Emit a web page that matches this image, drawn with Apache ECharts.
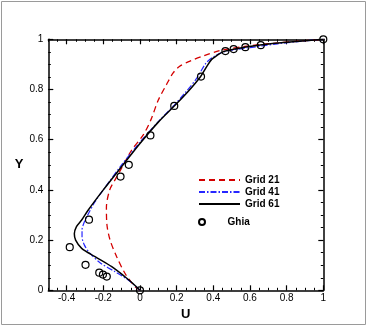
<!DOCTYPE html>
<html>
<head>
<meta charset="utf-8">
<script src="https://cdn.jsdelivr.net/npm/echarts@6/dist/echarts.min.js"></script>
<style>
  html, body { margin: 0; padding: 0; background: #fff; }
  #chart { width: 368px; height: 327px; }
</style>
</head>
<body>
<div id="chart"></div>
<script>
  // Ghia et al. reference points (U on vertical centerline)
  var ghiaY = [1.0, 0.9766, 0.9688, 0.9609, 0.9531, 0.8516, 0.7344, 0.6172, 0.5, 0.4531, 0.2813, 0.1719, 0.1016, 0.0703, 0.0625, 0.0547, 0.0];
  var ghiaU = [1.0, 0.659, 0.575, 0.511, 0.466, 0.333, 0.187, 0.057, -0.061, -0.106, -0.278, -0.383, -0.297, -0.222, -0.202, -0.181, 0.0];

  // Grid 21
  var g21U = [0, -0.027, -0.082, -0.127, -0.163, -0.18, -0.183, -0.165, -0.136, -0.09, -0.045, 0.018, 0.06, 0.1, 0.145, 0.18, 0.215, 0.273, 0.35, 0.436, 0.582, 0.727, 0.873, 1];
  var g21Y = [0, 0.014, 0.068, 0.134, 0.2, 0.26, 0.33, 0.4, 0.44, 0.5, 0.559, 0.619, 0.68, 0.758, 0.82, 0.865, 0.892, 0.913, 0.935, 0.955, 0.973, 0.984, 0.993, 1];

  // Grid 41
  var g41U = [0, -0.064, -0.136, -0.218, -0.272, -0.303, -0.316, -0.316, -0.303, -0.28, -0.245, -0.19, -0.1, 0.0, 0.1, 0.187, 0.25, 0.31, 0.36, 0.40, 0.45, 0.51, 0.6, 0.75, 0.85, 1];
  var g41Y = [0, 0.041, 0.074, 0.11, 0.147, 0.18, 0.214, 0.24, 0.273, 0.307, 0.353, 0.41, 0.5, 0.59, 0.672, 0.738, 0.79, 0.845, 0.905, 0.93, 0.948, 0.958, 0.967, 0.982, 0.99, 1];

  // Grid 61
  var g61U = [0, -0.04, -0.082, -0.154, -0.245, -0.318, -0.351, -0.358, -0.347, -0.318, -0.282, -0.2, -0.092, 0.0, 0.1, 0.187, 0.26, 0.33, 0.364, 0.391, 0.419, 0.455, 0.51, 0.57, 0.655, 0.8, 1];
  var g61Y = [0, 0.028, 0.054, 0.094, 0.134, 0.167, 0.2, 0.225, 0.253, 0.28, 0.32, 0.4, 0.5, 0.585, 0.67, 0.734, 0.79, 0.851, 0.891, 0.92, 0.935, 0.951, 0.96, 0.968, 0.977, 0.988, 1];

  // tick labels
  var xTicks = [-0.4, -0.2, 0, 0.2, 0.4, 0.6, 0.8, 1];
  var yTicks = [0, 0.2, 0.4, 0.6, 0.8, 1];

  function pairs(us, ys) {
    return us.map(function (u, i) { return [u, ys[i]]; });
  }

  var fontName = 'Liberation Sans, Arial, sans-serif';
  var axisColor = '#000';

  // one axis per side for long ticks, one for the short ones
  function sideAxis(pos, min, max, ticks, opts) {
    var major = {
      type: 'value', position: pos, min: min, max: max,
      axisLine: { show: true, onZero: false, lineStyle: { color: axisColor, width: 1.5 } },
      axisTick: { show: true, inside: true, length: 5, customValues: ticks, lineStyle: { color: axisColor, width: 1.2 } },
      axisLabel: { show: false },
      splitLine: { show: false }
    };
    Object.assign(major, opts || {});
    var minor = {
      type: 'value', position: pos, min: min, max: max, interval: 0.05,
      axisLine: { show: false, onZero: false },
      axisTick: { show: true, inside: true, length: 2.5, lineStyle: { color: axisColor, width: 1 } },
      axisLabel: { show: false },
      splitLine: { show: false }
    };
    return [major, minor];
  }

  var xBottom = sideAxis('bottom', -0.5, 1, xTicks, {
    name: 'U', nameLocation: 'middle', nameGap: 11,
    nameTextStyle: { fontFamily: fontName, fontWeight: 'bold', fontSize: 13, color: '#000' },
    axisLabel: { show: true, customValues: xTicks, margin: 3, color: '#000', fontFamily: fontName, fontSize: 10 }
  });
  var xTop = sideAxis('top', -0.5, 1, xTicks);
  var yLeft = sideAxis('left', 0, 1, yTicks, {
    name: 'Y', nameLocation: 'middle', nameGap: 23, nameRotate: 0,
    nameTextStyle: { fontFamily: fontName, fontWeight: 'bold', fontSize: 13, color: '#000' },
    axisLabel: { show: true, customValues: yTicks, margin: 5, color: '#000', fontFamily: fontName, fontSize: 10 }
  });
  var yRight = sideAxis('right', 0, 1, yTicks);

  var chart = echarts.init(document.getElementById('chart'), null, { renderer: 'canvas' });

  var legendText = { fontFamily: fontName, fontWeight: 'bold', fontSize: 10, color: '#000' };

  var option = {
    animation: false,
    backgroundColor: '#fff',
    grid: { left: 48.3, right: 44.7, top: 39.3, bottom: 36.7 },
    xAxis: xBottom.concat(xTop),
    yAxis: yLeft.concat(yRight),
    legend: [
      {
        data: ['Grid 21', 'Grid 41', 'Grid 61'],
        orient: 'vertical', left: 198, top: 175, padding: 0,
        itemWidth: 41, itemHeight: 10, itemGap: 2,
        itemStyle: { opacity: 0 },
        textStyle: legendText,
        selectedMode: false
      },
      {
        data: ['Ghia'],
        orient: 'vertical', left: 198, top: 217, padding: 0,
        itemWidth: 41, itemHeight: 6,
        textStyle: legendText,
        selectedMode: false
      }
    ],
    graphic: [{
      type: 'rect',
      shape: { x: 1.5, y: 1.5, width: 364, height: 323 },
      style: { fill: null, stroke: '#9a9a9a', lineWidth: 1 },
      silent: true
    }],
    series: [
      {
        name: 'Grid 21', type: 'line', data: pairs(g21U, g21Y),
        symbol: 'none', smooth: 0.3,
        lineStyle: { color: '#d40000', width: 1.3, type: [6, 4] },
        itemStyle: { color: '#d40000' }
      },
      {
        name: 'Grid 41', type: 'line', data: pairs(g41U, g41Y),
        symbol: 'none', smooth: 0.3,
        lineStyle: { color: '#2626ff', width: 1.2, type: [6, 2, 1.5, 2] },
        itemStyle: { color: '#2626ff' }
      },
      {
        name: 'Grid 61', type: 'line', data: pairs(g61U, g61Y),
        symbol: 'none', smooth: 0.3,
        lineStyle: { color: '#000', width: 1.5 },
        itemStyle: { color: '#000' }
      },
      {
        name: 'Ghia', type: 'scatter', data: pairs(ghiaU, ghiaY),
        symbol: 'circle', symbolSize: 7, z: 5,
        itemStyle: { color: 'rgba(255,255,255,0)', borderColor: '#000', borderWidth: 1.2, opacity: 1 }
      }
    ]
  };

  chart.setOption(option);
</script>
</body>
</html>
